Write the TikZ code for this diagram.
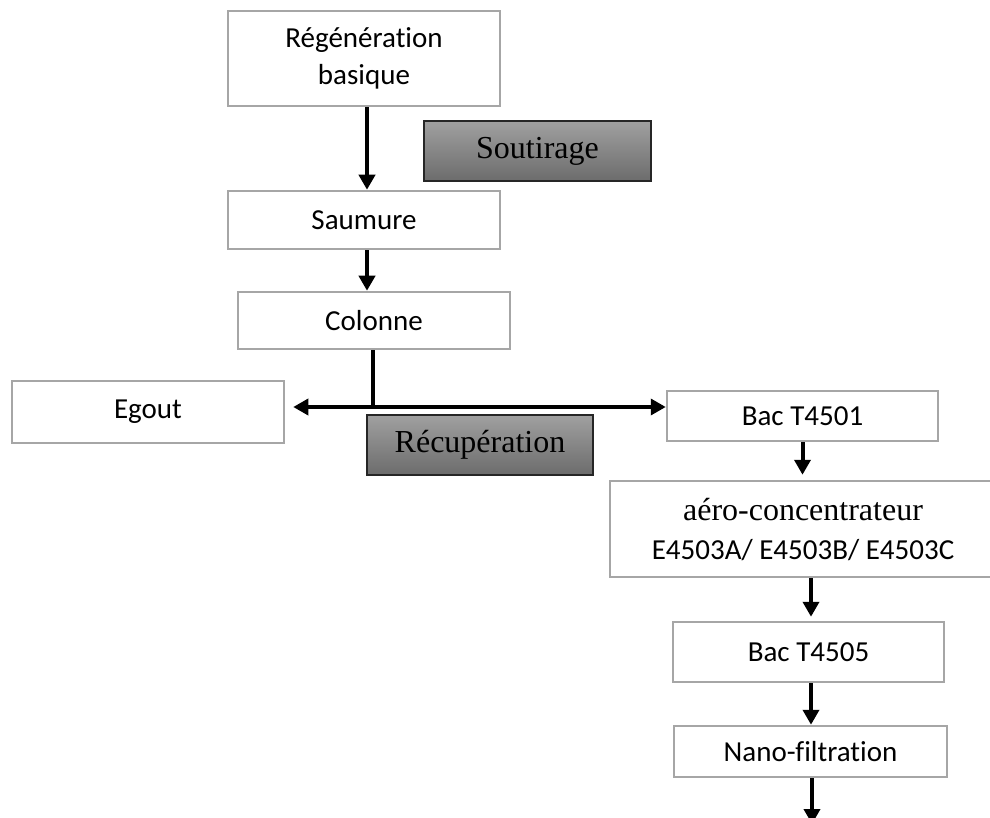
\documentclass[tikz,border=0pt]{standalone}
\usepackage{fontspec}
\setmainfont{Carlito}[Ligatures=NoCommon]
\newfontfamily\tnr{Liberation Serif}
\usetikzlibrary{arrows.meta,calc}
\definecolor{boxgray}{HTML}{A6A6A6}
\definecolor{gborder}{HTML}{262626}
\definecolor{gtop}{HTML}{A0A0A0}
\definecolor{gbot}{HTML}{6C6C6C}
\begin{document}
\begin{tikzpicture}[x=1pt,y=-1pt,
  wbox/.style={draw=boxgray,line width=2.5pt,fill=white,inner sep=0pt,align=center,
    font=\fontsize{29}{37}\selectfont},
  gbox/.style={draw=gborder,line width=1.5pt,top color=gtop,bottom color=gbot,inner sep=0pt,
    font=\tnr\fontsize{32}{38}\selectfont},
  arr/.style={line width=4pt,-{Triangle[length=15pt,width=16pt]}}]
\useasboundingbox (0,0) rectangle (990,818);
\clip (0,0) rectangle (990,818);
\fill[white] (0,0) rectangle (990,818);

\node[wbox,minimum width=272pt,minimum height=95pt] (regen) at (364,58.5)
  {\raisebox{-4pt}{\begin{tabular}{@{}c@{}}Régénération\\basique\end{tabular}}};
\node[gbox,minimum width=227pt,minimum height=60pt] (soutirage) at (537.5,151) {Soutirage};
\node[wbox,minimum width=272pt,minimum height=58pt] (saumure) at (364,220) {Saumure};
\node[wbox,minimum width=272pt,minimum height=57pt] (colonne) at (374,320.5) {Colonne};
\node[wbox,minimum width=272pt,minimum height=62pt] (egout) at (148,412) {Egout};
\node[gbox,minimum width=226pt,minimum height=60pt] (recup) at (480,445) {Récupération};
\node[wbox,minimum width=271pt,minimum height=50pt] (bacA) at (802.5,416) {Bac T4501};
\node[wbox,minimum width=386pt,minimum height=96pt] (aero) at (803,529)
  {{\tnr\fontsize{32}{38}\selectfont aéro-concentrateur}\\[2pt]E4503A/ E4503B/ E4503C};
\node[wbox,minimum width=271pt,minimum height=60pt] (bacB) at (808.5,652) {Bac T4505};
\node[wbox,minimum width=273pt,minimum height=51pt] (nano) at (810.5,751.5) {Nano-filtration};

\coordinate (c1) at (367,0);
\coordinate (j) at (373,407);
\coordinate (c2) at (811,0);
\coordinate (out) at (812,824);
\coordinate (egtip) at ([xshift=8pt]egout.east);

\draw[arr] (regen.south -| c1) -- (saumure.north -| c1);
\draw[arr] (saumure.south -| c1) -- (colonne.north -| c1);
\draw[line width=4pt] (colonne.south -| j) -- (j);
\draw[line width=3.5pt,{Triangle[length=15pt,width=16pt]}-{Triangle[length=15pt,width=16pt]}]
  (egtip |- j) -- (bacA.west |- j);
\draw[arr,shorten >=5pt] (bacA.south) -- (bacA.south |- aero.north);
\draw[arr,shorten >=4pt] (aero.south -| c2) -- (bacB.north -| c2);
\draw[arr] (bacB.south -| c2) -- (nano.north -| c2);
\draw[arr] (nano.south -| out) -- (out);
\end{tikzpicture}
\end{document}
